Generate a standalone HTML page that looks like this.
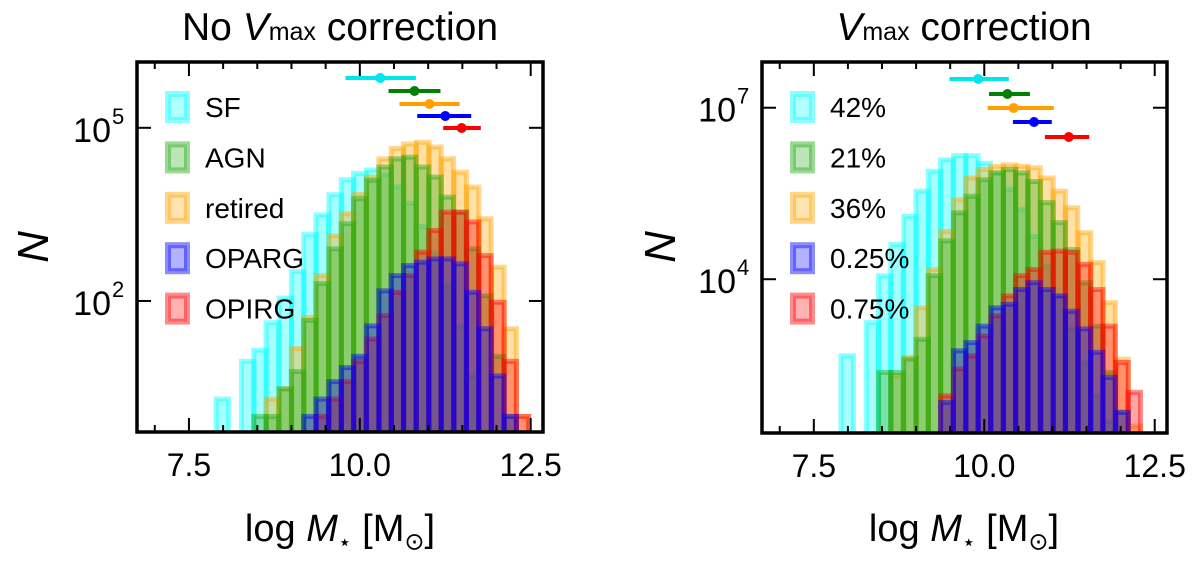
<!DOCTYPE html>
<html><head><meta charset="utf-8"><style>
html,body{margin:0;padding:0;background:#fff;}
svg{display:block;font-family:"Liberation Sans","DejaVu Sans",sans-serif;}
</style></head><body>
<svg id="fig" width="1200" height="569" viewBox="0 0 1200 569" xmlns="http://www.w3.org/2000/svg"></svg>
<script>
// ---- data ----
const massBins = [7.99,8.17,8.36,8.54,8.72,8.91,9.09,9.27,9.45,9.64,9.82,10.00,10.19,10.37,10.55,10.73,10.92,11.10,11.28,11.47,11.65,11.83,12.02,12.20,12.38];
const binWidth = 0.183;
const seriesNames = ["SF","AGN","retired","OPARG","OPIRG"];
const pctLabels = ["42%","21%","36%","0.25%","0.75%"];
const sfL  = [2,0,9,14,42,112,324,1410,3090,6920,12600,16200,18600,15500,9500,4900,1950,680,178,36,5,0,0,0,0];
const agnL = [0,0,0,1,1,3,6,46,200,800,2180,5900,12300,20900,29000,31000,20900,14000,6300,3460,800,123,11,1,0];
const retL = [0,0,0,0,2,3,15,52,275,1350,3240,7000,14000,29000,43600,52500,56000,46500,29000,17000,9400,2650,385,33,1];
const oparL= [0,0,0,0,0,0,0,1,2,4,7,11,37,150,275,410,470,535,535,440,141,33,5,1,0];
const opirL= [0,0,0,0,0,0,0,0,1,2,4,9,22,56,141,275,700,1660,3460,3460,2340,610,95,9,1];
const sfR  = [457,0,1740,11500,40700,126000,347000,776000,1230000,1450000,1450000,1070000,724000,372000,166000,56000,17000,5100,1350,350,91,32,0,0,0];
const agnR = [0,0,0,234,234,400,890,11500,46800,145000,282000,550000,724000,832000,724000,513000,219000,97700,33000,8700,1510,234,47,0,0];
const retR = [0,0,0,0,204,430,3160,14800,69000,247000,590000,832000,937000,1000000,937000,890000,590000,347000,178000,65000,19500,3900,400,27,0];
const oparR= [0,0,0,0,0,0,0,0,70,560,780,1510,3160,3630,6600,8700,6600,5100,2750,1350,525,191,47,0,0];
const opirR= [0,0,0,0,0,0,0,0,91,269,457,1020,2290,5100,11500,14800,29500,31000,29500,18200,6600,1510,350,105,0];
// error bars: [low, median, high]
const errL = [[9.79,10.30,10.82],[10.42,10.80,11.18],[10.58,11.02,11.46],[10.84,11.25,11.63],[11.22,11.49,11.77]];
const errR = [[9.49,9.91,10.36],[10.07,10.34,10.67],[10.05,10.43,11.02],[10.42,10.73,10.99],[10.89,11.24,11.54]];
const xTicks = [7.5,10.0,12.5];
const yTicksL = [2,5];
const yTicksR = [4,7];

// ---- style / layout ----
const colors = ["#00ffff","#22aa11","#ffa500","#0000ff","#ff0000"];
const errColors = ["#00e5ee","#007f00","#ffa000","#0000ff","#ff0000"];
const drawOrder = [0,2,1,4,3];
const NS = "http://www.w3.org/2000/svg";
const svg = document.getElementById("fig");
function mk(tag, attrs, parent){
  const e = document.createElementNS(NS, tag);
  for (const k in attrs) e.setAttribute(k, attrs[k]);
  (parent||svg).appendChild(e); return e;
}
function drawPanel(p){
  const g = mk("g", {});
  
  
  const X = m => p.x0 + (m - 6.74) / (12.68 - 6.74) * (p.x1 - p.x0);
  const Y = lg => p.y1 - (lg - p.lmin) / (p.lmax - p.lmin) * (p.y1 - p.y0);
  const clip = mk("clipPath", {id: "c"+p.id}, g);
  mk("rect", {x:p.x0, y:p.y0, width:p.x1-p.x0, height:p.y1-p.y0}, clip);
  const bars = mk("g", {"clip-path":"url(#c"+p.id+")"}, g);
  drawOrder.forEach(si => {
    const vals = p.series[si];
    vals.forEach((v, i) => {
      if (v <= 0) return;
      const xl = X(massBins[i] - binWidth/2), xr = X(massBins[i] + binWidth/2);
      const yt = Y(Math.log10(v));
      const r = mk("rect", {x:xl, y:yt, width:xr-xl, height:Math.max(0,p.y1+10-yt),
        fill:colors[si], "fill-opacity":0.35, stroke:colors[si], "stroke-opacity":0.45, "stroke-width":5}, bars);
      
      
    });
  });
  // error bars
  p.err.forEach((e, si) => {
    const y = p.errY[si];
    const l = mk("line", {x1:X(e[0]), x2:X(e[2]), y1:y, y2:y, stroke:errColors[si], "stroke-width":4}, g);
    
    
    const c = mk("circle", {cx:X(e[1]), cy:y, r:5, fill:errColors[si]}, g);
    
    
  });
  // legend
  p.legend.forEach((lab, si) => {
    const y = 107 + si*50.4;
    const lg = mk("g", {}, g);
    
    
    mk("rect", {x:p.legX+3, y:y-13, width:19, height:26, fill:colors[si], "fill-opacity":0.3, stroke:colors[si], "stroke-opacity":0.45, "stroke-width":6}, lg);
    const t = mk("text", {x:p.legX+40, y:y+10, "font-size":28, fill:"#000"}, lg);
    t.textContent = lab;
  });
  // ticks
  const tk = mk("g", {stroke:"#000", "stroke-width":2}, g);
  for (let m = 7.0; m <= 12.51; m += 0.5) {
    const major = xTicks.some(v => Math.abs(v-m) < 1e-6);
    const len = major ? 14 : 7;
    mk("line", {x1:X(m), x2:X(m), y1:p.y1, y2:p.y1-len}, tk);
    mk("line", {x1:X(m), x2:X(m), y1:p.y0, y2:p.y0+len}, tk);
  }
  xTicks.forEach(v => {
    const t = mk("text", {x:X(v), y:p.y1+44, "font-size":32, "text-anchor":"middle"}, g);
    t.textContent = v.toFixed(1);
    
    
  });
  p.yTicks.forEach(v => {
    const y = Y(v);
    mk("line", {x1:p.x0, x2:p.x0+14, y1:y, y2:y}, tk);
    mk("line", {x1:p.x1, x2:p.x1-14, y1:y, y2:y}, tk);
    const t = mk("text", {x:p.x0-26, y:y+14, "font-size":34, "text-anchor":"end"}, g);
    
    
    t.textContent = "10";
    const s = mk("text", {x:p.x0-25, y:y-4, "font-size":22, "text-anchor":"start"}, g);
    s.textContent = String(v);
  });
  const fr = mk("rect", {x:p.x0, y:p.y0, width:p.x1-p.x0, height:p.y1-p.y0, fill:"none", stroke:"#000", "stroke-width":3.5}, g);
  
  
}
drawPanel({id:"L", name:"panel-no-vmax", x0:137, x1:543, y0:62, y1:432, lmin:-0.27, lmax:6.14,
  series:[sfL,agnL,retL,oparL,opirL], err:errL, errY:[78,91,104,116,128], legend:seriesNames, legX:165, yTicks:yTicksL});
drawPanel({id:"R", name:"panel-vmax", x0:762, x1:1167, y0:62, y1:433, lmin:1.31, lmax:7.8,
  series:[sfR,agnR,retR,oparR,opirR], err:errR, errY:[79,94,108,122,137], legend:pctLabels, legX:790, yTicks:yTicksR});
</script>
<div style="position:absolute;left:0;top:0;width:1200px;height:569px;pointer-events:none;font-family:'Liberation Sans','DejaVu Sans',sans-serif;">
  <div style="position:absolute;left:140px;width:400px;top:6px;text-align:center;font-size:39px;">No <i>V</i><span style="font-size:25px">max</span> correction</div>
  <div style="position:absolute;left:764px;width:400px;top:6px;text-align:center;font-size:39px;"><i>V</i><span style="font-size:25px">max</span> correction</div>
  <div style="position:absolute;left:140px;width:400px;top:508px;text-align:center;font-size:38px;">log <i>M</i><sub style="font-size:22px">⋆</sub> [M<sub style="font-size:24px">⊙</sub>]</div>
  <div style="position:absolute;left:764px;width:400px;top:508px;text-align:center;font-size:38px;">log <i>M</i><sub style="font-size:22px">⋆</sub> [M<sub style="font-size:24px">⊙</sub>]</div>
  <div style="position:absolute;left:18px;top:222px;font-size:44px;font-style:italic;transform:rotate(-90deg);">N</div>
  <div style="position:absolute;left:645px;top:222px;font-size:44px;font-style:italic;transform:rotate(-90deg);">N</div>
</div>
</body></html>
